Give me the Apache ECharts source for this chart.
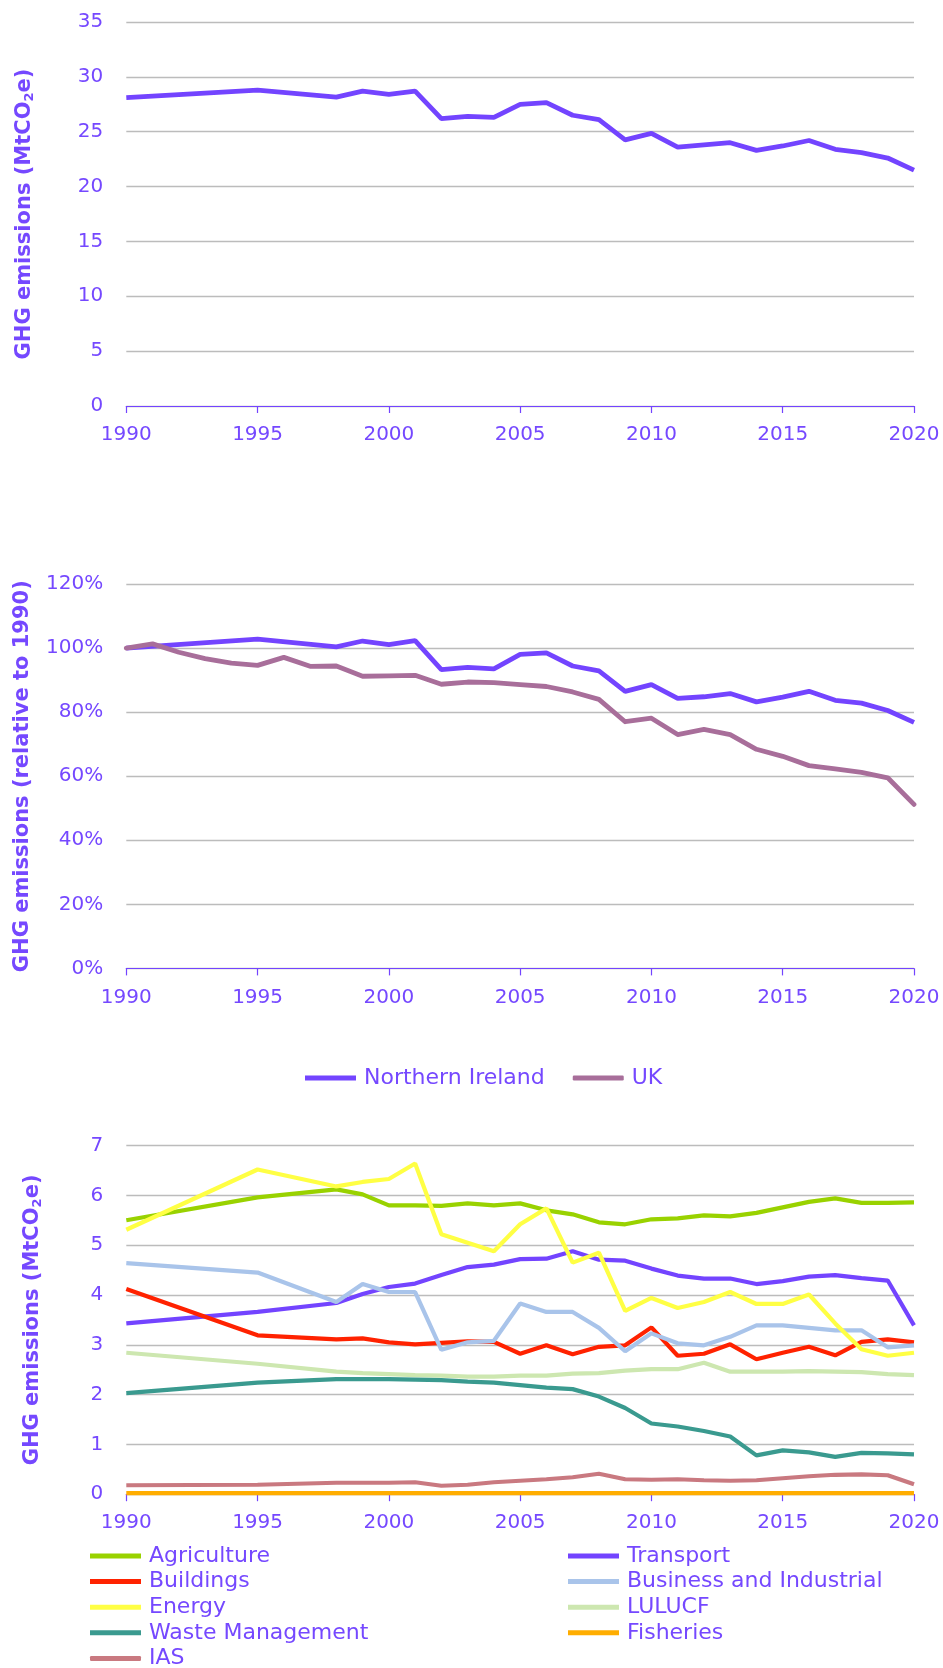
<!DOCTYPE html>
<html>
<head>
<meta charset="utf-8">
<script src="https://cdn.jsdelivr.net/npm/echarts@6/dist/echarts.min.js"></script>
<style>
html,body{margin:0;padding:0;background:#fff;}
#c{width:943px;height:1668px;}
</style>
</head>
<body>
<div id="c"></div>
<script>
// ---------- DATA ----------
const years = ['1990','1991','1992','1993','1994','1995','1996','1997','1998','1999','2000','2001','2002','2003','2004','2005','2006','2007','2008','2009','2010','2011','2012','2013','2014','2015','2016','2017','2018','2019','2020'];
const xTickLabels = ['1990','1995','2000','2005','2010','2015','2020'];

// Chart 1: Northern Ireland total GHG emissions (MtCO2e)
const niTotal = [28.1,null,null,null,null,28.8,null,null,28.15,28.7,28.4,28.7,26.2,26.4,26.3,27.5,27.65,26.5,26.1,24.25,24.85,23.6,23.8,24.0,23.3,23.7,24.2,23.4,23.1,22.6,21.5];

// Chart 2: emissions relative to 1990 (%)
const niRelative = [100,null,null,null,null,102.8,null,null,100.4,102.2,101.1,102.3,93.3,94.0,93.5,98.0,98.5,94.4,92.9,86.5,88.6,84.3,84.8,85.8,83.2,84.7,86.5,83.7,82.8,80.5,76.8];
const ukRelative = [100,101.3,98.7,96.7,95.3,94.6,97.1,94.3,94.4,91.2,91.3,91.5,88.7,89.4,89.2,88.6,88.0,86.3,84.0,77.0,78.1,73.0,74.6,73.0,68.4,66.2,63.3,62.3,61.2,59.5,51.2];

// Chart 3: sector emissions (MtCO2e)
const agriculture = [5.50,null,null,null,null,5.96,null,null,6.12,6.02,5.80,5.80,5.79,5.84,5.80,5.84,5.70,5.62,5.46,5.42,5.52,5.54,5.60,5.58,5.65,5.76,5.87,5.94,5.85,5.85,5.86];
const transport = [3.43,null,null,null,null,3.66,null,null,3.84,4.02,4.16,4.23,4.40,4.56,4.61,4.72,4.73,4.88,4.71,4.69,4.53,4.39,4.33,4.33,4.22,4.28,4.37,4.40,4.34,4.29,3.39];
const buildings = [4.12,null,null,null,null,3.19,null,null,3.11,3.13,3.05,3.01,3.04,3.07,3.06,2.82,2.99,2.81,2.96,2.99,3.35,2.78,2.82,3.01,2.71,2.84,2.96,2.79,3.06,3.11,3.05];
const business = [4.64,null,null,null,null,4.45,null,null,3.86,4.22,4.06,4.06,2.90,3.05,3.08,3.83,3.66,3.66,3.34,2.87,3.23,3.03,2.99,3.16,3.39,3.39,3.34,3.29,3.29,2.95,2.99];
const energy = [5.31,null,null,null,null,6.52,null,null,6.18,6.27,6.33,6.64,5.22,5.05,4.88,5.42,5.74,4.65,4.85,3.68,3.94,3.74,3.86,4.06,3.82,3.82,4.01,3.43,2.91,2.78,2.84];
const lulucf = [2.84,null,null,null,null,2.62,null,null,2.46,2.43,2.41,2.39,2.38,2.36,2.36,2.38,2.38,2.42,2.43,2.48,2.51,2.51,2.64,2.46,2.46,2.46,2.47,2.46,2.45,2.41,2.39];
const waste = [2.03,null,null,null,null,2.24,null,null,2.31,2.31,2.31,2.30,2.29,2.26,2.24,2.19,2.14,2.11,1.96,1.73,1.42,1.36,1.27,1.16,0.78,0.88,0.84,0.75,0.83,0.82,0.80];
const fisheries = [0.02,null,null,null,null,0.02,null,null,0.02,0.02,0.02,0.02,0.02,0.02,0.02,0.02,0.02,0.02,0.02,0.02,0.02,0.02,0.02,0.02,0.02,0.02,0.02,0.02,0.02,0.02,0.02];
const ias = [0.18,null,null,null,null,0.19,null,null,0.23,0.23,0.23,0.24,0.17,0.19,0.24,0.27,0.30,0.34,0.41,0.30,0.29,0.30,0.28,0.27,0.28,0.32,0.36,0.39,0.40,0.38,0.20];

const sectorNames = ['Agriculture','Transport','Buildings','Business and Industrial','Energy','LULUCF','Waste Management','Fisheries','IAS'];
const sectorData = [agriculture,transport,buildings,business,energy,lulucf,waste,fisheries,ias];
const sectorColors = ['#99d200','#7344ff','#ff2200','#a9c4ea','#ffff44','#cde7b0','#3a9a8f','#ffad00','#c97980'];

// ---------- STYLE ----------
const PURPLE = '#7344ff';
const TXT = '#7548ff';
const FONT = 'DejaVu Sans';
const grids = [
  {left:126.3, right:29, top:22, height:384},
  {left:126.3, right:29, top:584, height:384.4},
  {left:126.3, right:29, top:1145.6, height:348.6}
];

function xAx(i){
  return {
    type:'category', gridIndex:i, data:years, boundaryGap:false,
    axisLine:{show:true, lineStyle:{color:PURPLE, width:1.2}},
    axisTick:{show:true, interval:4, length:7, lineStyle:{color:PURPLE, width:1.2}},
    axisLabel:{interval:4, color:TXT, fontFamily:FONT, fontSize:20, margin:19},
    splitLine:{show:false}
  };
}
function yAx(i, max, interval, name, gap, fmt){
  return {
    type:'value', gridIndex:i, min:0, max:max, interval:interval,
    axisLine:{show:false}, axisTick:{show:false},
    axisLabel:{color:TXT, fontFamily:FONT, fontSize:20, margin:23, formatter:fmt},
    splitLine:{show:true, lineStyle:{color:'#bcbcbc', width:1.4}},
    name:name, nameLocation:'middle', nameRotate:90, nameGap:gap,
    nameTextStyle:{color:TXT, fontFamily:FONT, fontSize:21, fontWeight:'bold',
      rich:{
        b:{color:TXT, fontFamily:FONT, fontSize:21, fontWeight:'bold'},
        sub:{color:TXT, fontFamily:FONT, fontSize:13, fontWeight:'bold', verticalAlign:'bottom', padding:[10,0,0,0]}
      }}
  };
}

const series = [];
series.push({name:'NI total', type:'line', xAxisIndex:0, yAxisIndex:0, data:niTotal, connectNulls:true,
  showSymbol:false, symbol:'none', lineStyle:{color:PURPLE, width:4.8}, itemStyle:{color:PURPLE}});
series.push({name:'Northern Ireland', type:'line', xAxisIndex:1, yAxisIndex:1, data:niRelative, connectNulls:true,
  showSymbol:false, symbol:'none', lineStyle:{color:PURPLE, width:4.8}, itemStyle:{color:PURPLE}});
series.push({name:'UK', type:'line', xAxisIndex:1, yAxisIndex:1, data:ukRelative, connectNulls:true,
  showSymbol:false, symbol:'none', lineStyle:{color:'#a86e9a', width:4.8, cap:'round', join:'round'}, itemStyle:{color:'#a86e9a'}});
sectorNames.forEach((n,k)=>{
  series.push({name:n, type:'line', xAxisIndex:2, yAxisIndex:2, data:sectorData[k], connectNulls:true,
    showSymbol:false, symbol:'none', lineStyle:{color:sectorColors[k], width:4.2}, itemStyle:{color:sectorColors[k]}});
});

const legendText = {color:TXT, fontFamily:FONT, fontSize:22, lineHeight:22, padding:[0,0,0,3]};

const option = {
  animation:false,
  backgroundColor:'#ffffff',
  grid:grids,
  xAxis:[xAx(0),xAx(1),xAx(2)],
  yAxis:[
    yAx(0,35,5,'{b|GHG emissions (MtCO}{sub|2}{b|e)}',90,'{value}'),
    yAx(1,120,20,'{b|GHG emissions (relative to 1990)}',93,'{value}%'),
    yAx(2,7,1,'{b|GHG emissions (MtCO}{sub|2}{b|e)}',82,'{value}')
  ],
  legend:[
    {data:[{name:'Northern Ireland', icon:'rect'},{name:'UK', icon:'roundRect'}],
     left:300, top:1062, orient:'horizontal', itemWidth:51, itemHeight:5, itemGap:28,
     textStyle:legendText, selectedMode:false},
    {data:[{name:'Agriculture', icon:'rect'},{name:'Buildings', icon:'rect'},{name:'Energy', icon:'rect'},{name:'Waste Management', icon:'rect'},{name:'IAS', icon:'roundRect'}],
     left:90, top:1545, height:220, orient:'vertical', itemWidth:51, itemHeight:5, itemGap:3.6,
     textStyle:legendText, selectedMode:false, padding:0},
    {data:['Transport','Business and Industrial','LULUCF','Fisheries'].map(d=>({name:d, icon:'rect'})),
     left:568, top:1545, height:220, orient:'vertical', itemWidth:51, itemHeight:5, itemGap:3.6,
     textStyle:legendText, selectedMode:false, padding:0}
  ],
  series:series
};

const chart = echarts.init(document.getElementById('c'), null, {renderer:'canvas'});
chart.setOption(option);
</script>
</body>
</html>
